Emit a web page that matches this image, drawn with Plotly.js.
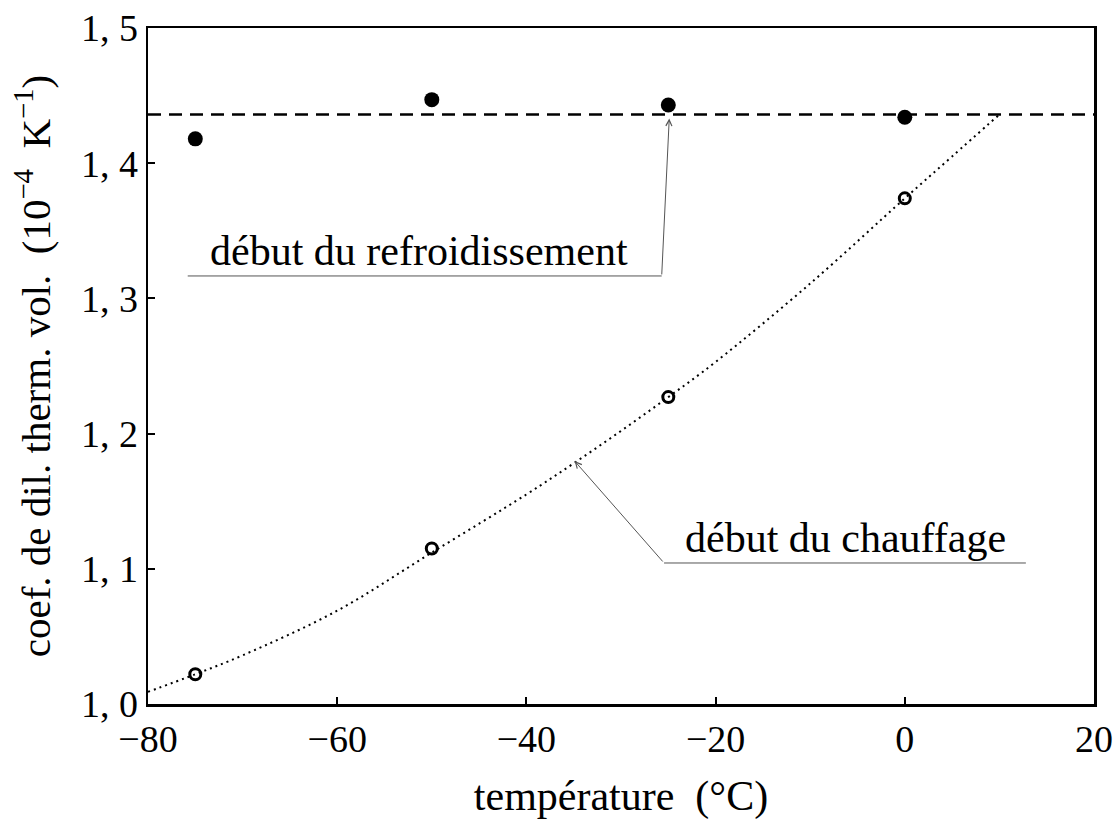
<!DOCTYPE html>
<html>
<head>
<meta charset="utf-8">
<script src="https://cdn.plot.ly/plotly-3.0.1.min.js"></script>
<style>html,body{margin:0;padding:0;background:#fff;}#chart{width:1118px;height:824px;}</style>
</head>
<body>
<div id="chart"></div>
<script>
// Data
const tempPoints = [-75, -50, -25, 0];
const coolingStart = [1.418, 1.447, 1.443, 1.434];   // filled circles
const heatingStart = [1.022, 1.115, 1.227, 1.374];   // open circles
const refLevelX = [-80, 20];
const refLevelY = [1.436, 1.436];                    // dashed line
const curveX = [-80, -75, -70, -60, -50, -40, -35, -30, -25, -20, -10, 0, 5, 10];
const curveY = [1.009, 1.022, 1.036, 1.069, 1.112, 1.155, 1.178, 1.202, 1.227, 1.253, 1.311, 1.374, 1.405, 1.436];
const xTickVals = [-80, -60, -40, -20, 0, 20];
const xTickText = ["\u221280", "\u221260", "\u221240", "\u221220", "0", "20"];
const yTickVals = [1.0, 1.1, 1.2, 1.3, 1.4, 1.5];
const yTickText = ["1, 0", "1, 1", "1, 2", "1, 3", "1, 4", "1, 5"];
const labelCooling = "début du refroidissement";
const labelHeating = "début du chauffage";
const xTitle = "température\u2002(°C)";
const yTitle = "coef. de dil. therm. vol.\u2002(10<sup>\u22124</sup>\u2002K<sup>\u22121</sup>)";

const FONT = "Liberation Serif, Times New Roman, serif";

const traces = [
  {x: refLevelX, y: refLevelY, mode: 'lines', line: {color: '#000', width: 2.5, dash: '13px,8px'}, hoverinfo: 'skip'},
  {x: curveX, y: curveY, mode: 'lines', line: {color: '#000', width: 2, dash: '2px,4px', shape: 'spline'}, hoverinfo: 'skip'},
  {x: tempPoints, y: coolingStart, mode: 'markers', marker: {color: '#000', size: 15, symbol: 'circle'}},
  {x: tempPoints, y: heatingStart, mode: 'markers', marker: {color: '#000', size: 11, symbol: 'circle-open', line: {width: 3, color: '#000'}}}
];

const layout = {
  width: 1118, height: 824,
  margin: {l: 148, r: 24, t: 28, b: 120},
  paper_bgcolor: '#fff', plot_bgcolor: '#fff',
  showlegend: false,
  font: {family: FONT, color: '#000', size: 38},
  xaxis: {
    range: [-80, 20], tickvals: xTickVals, ticktext: xTickText,
    ticks: 'inside', ticklen: 7, tickwidth: 2, tickcolor: '#000',
    showline: true, linewidth: 2.5, linecolor: '#000', mirror: true,
    showgrid: false, zeroline: false,
    tickfont: {family: FONT, size: 38},
    title: {text: xTitle, font: {family: FONT, size: 42}, standoff: 22}
  },
  yaxis: {
    range: [1.0, 1.5], tickvals: yTickVals, ticktext: yTickText,
    ticks: 'inside', ticklen: 7, tickwidth: 2, tickcolor: '#000',
    showline: true, linewidth: 2.5, linecolor: '#000', mirror: true,
    showgrid: false, zeroline: false,
    tickfont: {family: FONT, size: 38},
    title: {text: yTitle, font: {family: FONT, size: 41}, standoff: 18}
  },
  shapes: [
    {type: 'line', xref: 'x', yref: 'y', x0: -75.8, x1: -25.7, y0: 1.3166, y1: 1.3166, line: {color: '#555', width: 1}},
    {type: 'line', xref: 'x', yref: 'y', x0: -25.45, x1: 12.8, y0: 1.1043, y1: 1.1043, line: {color: '#555', width: 1}}
  ],
  annotations: [
    {x: -51.35, y: 1.3166, xref: 'x', yref: 'y', text: labelCooling, showarrow: false, yanchor: 'bottom', yshift: 0, font: {family: FONT, size: 42}},
    {x: -6.3, y: 1.1043, xref: 'x', yref: 'y', text: labelHeating, showarrow: false, yanchor: 'bottom', yshift: 0, font: {family: FONT, size: 42}},
    {x: -24.9, y: 1.433, ax: -25.7, ay: 1.3166, xref: 'x', yref: 'y', axref: 'x', ayref: 'y', text: '', showarrow: true, arrowhead: 5, arrowsize: 1.2, arrowwidth: 1, arrowcolor: '#555', standoff: 0, startstandoff: 0},
    {x: -34.9, y: 1.1797, ax: -25.45, ay: 1.1043, xref: 'x', yref: 'y', axref: 'x', ayref: 'y', text: '', showarrow: true, arrowhead: 5, arrowsize: 1.2, arrowwidth: 1, arrowcolor: '#555', standoff: 0, startstandoff: 0}
  ]
};

Plotly.newPlot('chart', traces, layout, {staticPlot: true, displayModeBar: false});
</script>
</body>
</html>
